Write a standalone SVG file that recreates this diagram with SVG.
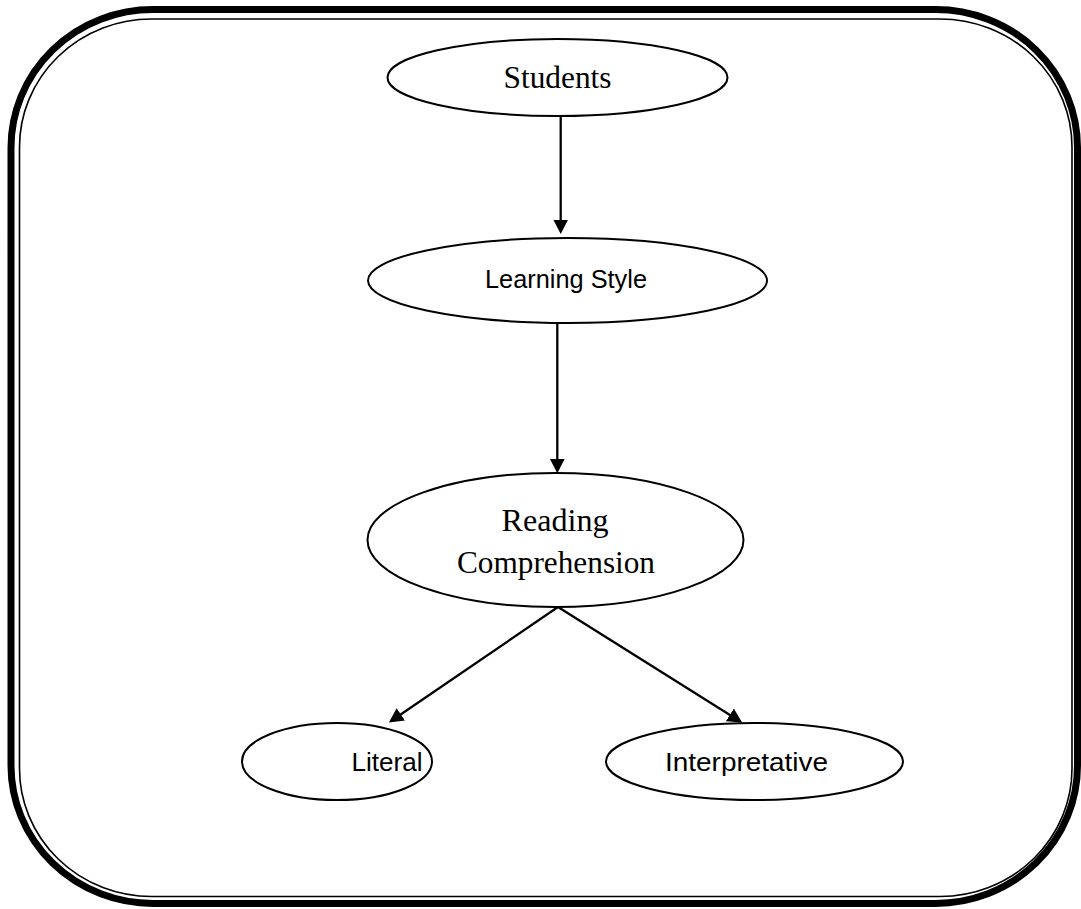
<svg xmlns="http://www.w3.org/2000/svg" width="1081" height="909" viewBox="0 0 1081 909">
<defs>
<style>
.node{fill:#fff;stroke:#000;stroke-width:2}
.serif{font-family:"Liberation Serif","Times New Roman",serif;font-size:32px;fill:#000;text-anchor:middle}
.sans{font-family:"Liberation Sans",Arial,sans-serif;font-size:26px;fill:#000;text-anchor:middle}
.edge{stroke:#000;stroke-width:2.3;fill:none;marker-end:url(#arr)}
</style>
<marker id="arr" markerUnits="userSpaceOnUse" markerWidth="16" markerHeight="16" refX="10" refY="8" orient="auto">
<path d="M0,0.5 L14.5,8 L0,15.5 z" fill="#000"/>
</marker>
</defs>
<rect width="1081" height="909" fill="#fff"/>
<g id="frame" fill="none" stroke="#000">
<rect x="11" y="9.5" width="1066.5" height="894" rx="142" ry="138" stroke-width="7"/>
<rect x="19.5" y="19" width="1052.5" height="877.5" rx="132" ry="128" stroke-width="1.6"/>
</g>
<g id="connectors">
<line class="edge" x1="560.7" y1="116" x2="560.7" y2="229.5"/>
<line class="edge" x1="557.3" y1="323" x2="557.3" y2="468.7"/>
<line class="edge" x1="558" y1="607" x2="392.6" y2="720"/>
<line class="edge" x1="558" y1="607" x2="738.3" y2="720.2"/>
</g>
<g id="students">
<ellipse class="node" cx="557.5" cy="77.5" rx="170" ry="38.5"/>
<text class="serif" x="557.5" y="88" textLength="108" lengthAdjust="spacingAndGlyphs">Students</text>
</g>
<g id="learning-style">
<ellipse class="node" cx="567.5" cy="280.5" rx="199.5" ry="42.5"/>
<text class="sans" x="566" y="287.5" textLength="162" lengthAdjust="spacingAndGlyphs">Learning Style</text>
</g>
<g id="reading-comprehension">
<ellipse class="node" cx="555.5" cy="540" rx="188" ry="67"/>
<text class="serif" x="555" y="530.5" textLength="107" lengthAdjust="spacingAndGlyphs">Reading</text>
<text class="serif" x="556" y="572.5" textLength="198" lengthAdjust="spacingAndGlyphs">Comprehension</text>
</g>
<g id="literal">
<ellipse class="node" cx="337" cy="761.5" rx="95" ry="38.5"/>
<text class="sans" x="387" y="770.5" textLength="71" lengthAdjust="spacingAndGlyphs">Literal</text>
</g>
<g id="interpretative">
<ellipse class="node" cx="754.5" cy="761.5" rx="148.5" ry="38.5"/>
<text class="sans" x="746.5" y="770.5" textLength="163" lengthAdjust="spacingAndGlyphs">Interpretative</text>
</g>
</svg>
